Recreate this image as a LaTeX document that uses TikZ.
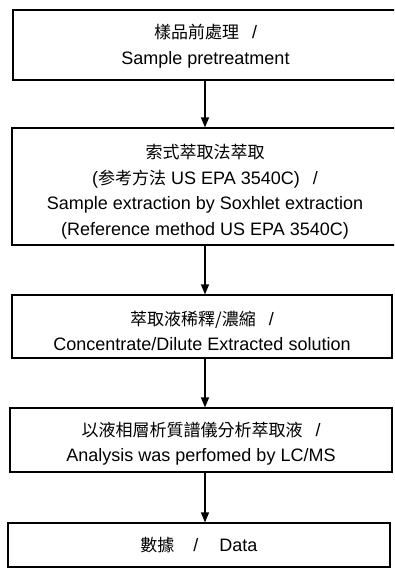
\documentclass[tikz,border=0pt]{standalone}
\usepackage{fontspec}
\setmainfont{Liberation Sans}
\newfontfamily\cjk{Noto Sans CJK TC}
\usetikzlibrary{arrows.meta}
\newcommand\zh[1]{{\cjk\fontsize{17}{26}\selectfont #1}}
\newcommand\slashsep{\hspace{13pt}/}
\newcommand\topgap[1]{\rule{0pt}{#1pt}}
\begin{document}
\begin{tikzpicture}[x=1pt,y=-1pt,
  box/.style={draw, line width=1.2pt, align=center, inner sep=0pt,
              font=\fontsize{18}{25.5}\selectfont},
  arr/.style={line width=1.2pt, -{Triangle[length=10pt,width=8pt]}}]
\useasboundingbox (0,0) rectangle (394,570);
\fill[white] (0,0) rectangle (394,570);
\clip (0,0) rectangle (394,570);
\coordinate (ax) at (205,0);
\node[box, minimum width=385pt, minimum height=70pt] (b1) at (205.5,45)
  {\topgap{17}\zh{樣品前處理}\slashsep\\Sample pretreatment};
\node[box, minimum width=386pt, minimum height=117pt] (b2) at (205,186.5)
  {\topgap{25}\zh{索式萃取法萃取}\\(\zh{参考方法} US EPA 3540C)\slashsep\\Sample extraction by Soxhlet extraction\\(Reference method US EPA 3540C)};
\node[box, minimum width=380pt, minimum height=63pt] (b3) at (202,326.5)
  {\topgap{23}\zh{萃取液稀釋/濃縮}\slashsep\\Concentrate/Dilute Extracted solution};
\node[box, minimum width=382pt, minimum height=64pt] (b4) at (201,440)
  {\topgap{22}\zh{以液相層析質譜儀分析萃取液}\slashsep\\Analysis was perfomed by LC/MS};
\node[box, minimum width=382pt, minimum height=44pt] (b5) at (199,545)
  {\zh{數據}\hspace{19pt}/\hspace{21pt}Data};
\draw[arr] (b1.south -| ax) -- (b2.north -| ax);
\draw[arr] (b2.south -| ax) -- (b3.north -| ax);
\draw[arr] (b3.south -| ax) -- (b4.north -| ax);
\draw[arr] (b4.south -| ax) -- (b5.north -| ax);
\end{tikzpicture}
\end{document}
